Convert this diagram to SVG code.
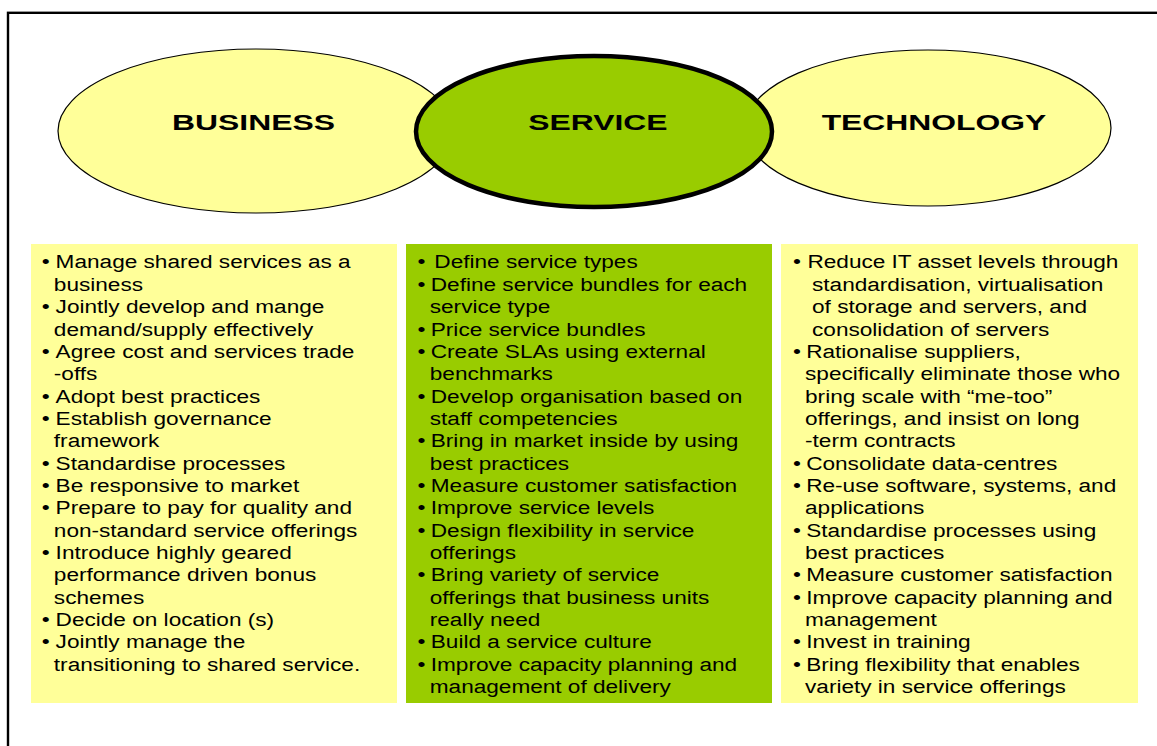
<svg xmlns="http://www.w3.org/2000/svg" width="1157" height="746" viewBox="0 0 1157 746">
<style>
.frame{fill:none;stroke:#000;stroke-width:2.4}
.oval{fill:#FFFF99;stroke:#000;stroke-width:1.2}
.ovalS{fill:#99CC00;stroke:#000;stroke-width:4.5}
.yb{fill:#FFFF99}
.gb{fill:#99CC00}
.h{font-family:"Liberation Sans",Arial,sans-serif;font-weight:bold;font-size:22.6px;fill:#000;text-anchor:middle}
.t{font-family:"Liberation Sans",Arial,sans-serif;font-size:17.8px;fill:#000}
</style>
<rect x="0" y="0" width="1157" height="746" fill="#fff"/>
<rect class="frame" x="8" y="12.8" width="1170" height="760"/>
<g id="connectors"/>
<g id="business">
<ellipse class="oval" cx="256" cy="131" rx="198" ry="82"/>
<text class="h" transform="translate(253.5,129.5) scale(1.41,1)">BUSINESS</text>
</g>
<g id="technology">
<ellipse class="oval" cx="928" cy="128" rx="183" ry="78"/>
<text class="h" transform="translate(934,129.5) scale(1.41,1)">TECHNOLOGY</text>
</g>
<g id="service">
<ellipse class="ovalS" cx="594" cy="131.5" rx="178" ry="75.5"/>
<text class="h" transform="translate(598,129.5) scale(1.41,1)">SERVICE</text>
</g>
<g id="business-actions">
<rect class="yb" x="31" y="244" width="366" height="459"/>
<g class="t" transform="scale(1.27,1)">
<text x="32.8" y="268.5">•</text><text x="43.8" y="268.5">Manage shared services as a</text>
<text x="42.4" y="290.85">business</text>
<text x="32.8" y="313.2">•</text><text x="43.8" y="313.2">Jointly develop and mange</text>
<text x="42.4" y="335.55">demand/supply effectively</text>
<text x="32.8" y="357.9">•</text><text x="43.8" y="357.9">Agree cost and services trade</text>
<text x="42.4" y="380.25">-offs</text>
<text x="32.8" y="402.6">•</text><text x="43.8" y="402.6">Adopt best practices</text>
<text x="32.8" y="424.95">•</text><text x="43.8" y="424.95">Establish governance</text>
<text x="42.4" y="447.3">framework</text>
<text x="32.8" y="469.65">•</text><text x="43.8" y="469.65">Standardise processes</text>
<text x="32.8" y="492">•</text><text x="43.8" y="492">Be responsive to market</text>
<text x="32.8" y="514.35">•</text><text x="43.8" y="514.35">Prepare to pay for quality and</text>
<text x="42.4" y="536.7">non-standard service offerings</text>
<text x="32.8" y="559.05">•</text><text x="43.8" y="559.05">Introduce highly geared</text>
<text x="42.4" y="581.4">performance driven bonus</text>
<text x="42.4" y="603.75">schemes</text>
<text x="32.8" y="626.1">•</text><text x="43.8" y="626.1">Decide on location (s)</text>
<text x="32.8" y="648.45">•</text><text x="43.8" y="648.45">Jointly manage the</text>
<text x="42.4" y="670.8">transitioning to shared service.</text>
</g>
</g>
<g id="service-actions">
<rect class="gb" x="406" y="244" width="366" height="459"/>
<g class="t" transform="scale(1.27,1)">
<text x="328.7" y="268.5">•</text><text x="342" y="268.5">Define service types</text>
<text x="328.7" y="290.85">•</text><text x="339.2" y="290.85">Define service bundles for each</text>
<text x="338.4" y="313.2">service type</text>
<text x="328.7" y="335.55">•</text><text x="339.2" y="335.55">Price service bundles</text>
<text x="328.7" y="357.9">•</text><text x="339.2" y="357.9">Create SLAs using external</text>
<text x="338.4" y="380.25">benchmarks</text>
<text x="328.7" y="402.6">•</text><text x="339.2" y="402.6">Develop organisation based on</text>
<text x="338.4" y="424.95">staff competencies</text>
<text x="328.7" y="447.3">•</text><text x="339.2" y="447.3">Bring in market inside by using</text>
<text x="338.4" y="469.65">best practices</text>
<text x="328.7" y="492">•</text><text x="339.2" y="492">Measure customer satisfaction</text>
<text x="328.7" y="514.35">•</text><text x="339.2" y="514.35">Improve service levels</text>
<text x="328.7" y="536.7">•</text><text x="339.2" y="536.7">Design flexibility in service</text>
<text x="338.4" y="559.05">offerings</text>
<text x="328.7" y="581.4">•</text><text x="339.2" y="581.4">Bring variety of service</text>
<text x="338.4" y="603.75">offerings that business units</text>
<text x="338.4" y="626.1">really need</text>
<text x="328.7" y="648.45">•</text><text x="339.2" y="648.45">Build a service culture</text>
<text x="328.7" y="670.8">•</text><text x="339.2" y="670.8">Improve capacity planning and</text>
<text x="338.4" y="693.15">management of delivery</text>
</g>
</g>
<g id="technology-actions">
<rect class="yb" x="781" y="244" width="357" height="459"/>
<g class="t" transform="scale(1.27,1)">
<text x="624.4" y="268.5">•</text><text x="635.8" y="268.5">Reduce IT asset levels through</text>
<text x="639.4" y="290.85">standardisation, virtualisation</text>
<text x="639.4" y="313.2">of storage and servers, and</text>
<text x="639.4" y="335.55">consolidation of servers</text>
<text x="624.4" y="357.9">•</text><text x="634.8" y="357.9">Rationalise suppliers,</text>
<text x="633.9" y="380.25">specifically eliminate those who</text>
<text x="633.9" y="402.6">bring scale with “me-too”</text>
<text x="633.9" y="424.95">offerings, and insist on long</text>
<text x="633.9" y="447.3">-term contracts</text>
<text x="624.4" y="469.65">•</text><text x="634.8" y="469.65">Consolidate data-centres</text>
<text x="624.4" y="492">•</text><text x="634.8" y="492">Re-use software, systems, and</text>
<text x="633.9" y="514.35">applications</text>
<text x="624.4" y="536.7">•</text><text x="634.8" y="536.7">Standardise processes using</text>
<text x="633.9" y="559.05">best practices</text>
<text x="624.4" y="581.4">•</text><text x="634.8" y="581.4">Measure customer satisfaction</text>
<text x="624.4" y="603.75">•</text><text x="634.8" y="603.75">Improve capacity planning and</text>
<text x="633.9" y="626.1">management</text>
<text x="624.4" y="648.45">•</text><text x="634.8" y="648.45">Invest in training</text>
<text x="624.4" y="670.8">•</text><text x="634.8" y="670.8">Bring flexibility that enables</text>
<text x="633.9" y="693.15">variety in service offerings</text>
</g>
</g>
</svg>
